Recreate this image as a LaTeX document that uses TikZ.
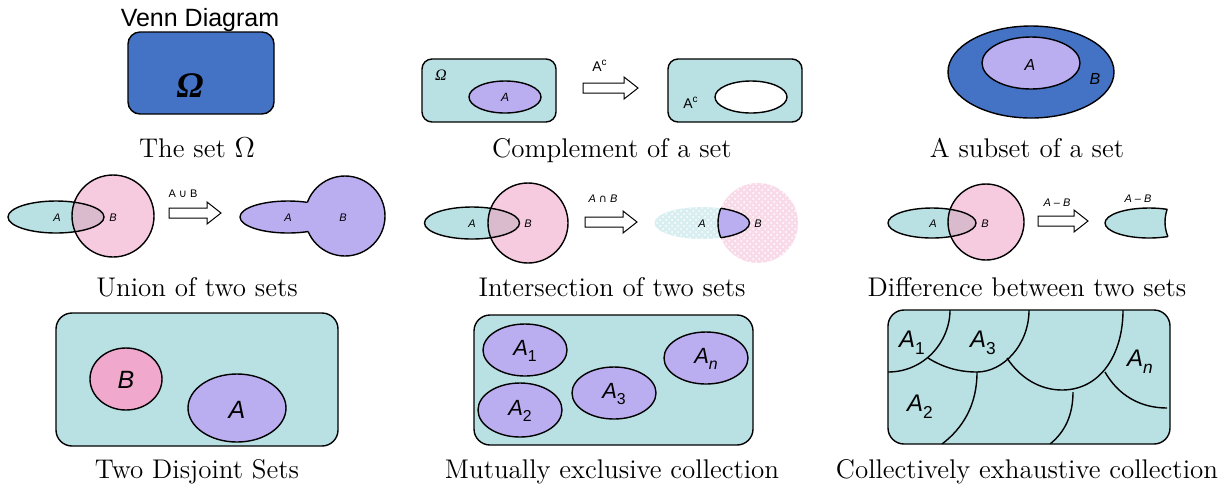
\documentclass[tikz,border=0pt]{standalone}
\usepackage{fontspec}
\newfontfamily\arialfont{Liberation Sans}
\newfontfamily\timesfont{Liberation Serif}
\newfontfamily\symbolfont{DejaVu Sans}
\usetikzlibrary{patterns}
\definecolor{omegaColour}{RGB}{68,114,196}
\definecolor{tealColour}{RGB}{185,224,227}
\definecolor{purpleColour}{RGB}{187,174,240}
\definecolor{pinkColour}{RGB}{246,202,223}
\definecolor{mauveColour}{RGB}{217,187,205}
\definecolor{roseColour}{RGB}{240,168,205}
\tikzset{
  set/.style={draw=black, line width=0.7pt},
  setlab/.style={font=\arialfont\itshape\fontsize{#1}{#1}\selectfont, inner sep=0pt},
  sanslab/.style={font=\arialfont\fontsize{#1}{#1}\selectfont, inner sep=0pt},
  caption/.style={font=\fontsize{13.5}{15}\selectfont, anchor=base, inner sep=0pt},
  fadeTeal/.style={fill=tealColour!55, postaction={pattern=crosshatch dots, pattern color=white}},
  fadePink/.style={fill=pinkColour!70, postaction={pattern=crosshatch dots, pattern color=white}}
}
% block arrow: left x, mid y, tip x
\newcommand{\blockarrow}[3]{%
  \draw[black, line width=0.5pt, fill=white] (#1,#2-5) -- (#3-14,#2-5) -- (#3-14,#2-11)
    -- (#3,#2) -- (#3-14,#2+11) -- (#3-14,#2+5) -- (#1,#2+5) -- cycle;}
% subscript index of a set
\newcommand{\setidx}[1]{\raisebox{-0.28em}{\fontsize{0.72em}{0.72em}\selectfont #1}}
\begin{document}
\begin{tikzpicture}[x=0.5pt, y=-0.5pt]
  \useasboundingbox (0,0) rectangle (1220,484);

  % the set Omega
  \draw[set, fill=omegaColour, rounded corners=6pt] (128,32) rectangle (274,114);
  \node[sanslab=12.5] (vennTitle) at (200,20) {Venn Diagram};
  \node[font=\timesfont\bfseries\itshape\fontsize{18}{18}\selectfont] (omegaBig) at (190,86) {Ω};
  \node[caption] (capOmega) at (197,157) {The set $\Omega$};

  % complement of a set
  \draw[set, fill=tealColour, rounded corners=5pt] (422,59) rectangle (556,122);
  \node[font=\timesfont\itshape\fontsize{8}{8}\selectfont, inner sep=0pt] (omegaSmall) at (441,75) {Ω};
  \draw[set, fill=purpleColour] (505,97) ellipse[x radius=36, y radius=16];
  \node[setlab=6] (compA) at (505,97) {A};
  \blockarrow{583}{88}{638}
  \node[sanslab=7] (compArrowLab) at (600,66) {A\textsuperscript{c}};
  \draw[set, fill=tealColour, rounded corners=5pt] (668,59) rectangle (802,122);
  \draw[set, fill=white] (751,97) ellipse[x radius=36, y radius=16];
  \node[sanslab=7] (compAc) at (691,103) {A\textsuperscript{c}};
  \node[caption] (capComp) at (612,157) {Complement of a set};

  % subset
  \draw[set, fill=omegaColour] (1031,72) ellipse[x radius=83, y radius=46];
  \draw[set, fill=purpleColour] (1031,63) ellipse[x radius=49, y radius=26];
  \node[setlab=8] (subA) at (1030,65) {A};
  \node[setlab=8] (subB) at (1095,79) {B};
  \node[caption] (capSub) at (1027,157) {A subset of a set};

  % union
  \fill[tealColour] (56,217) ellipse[x radius=48, y radius=16];
  \fill[pinkColour] (113,216) circle[radius=41];
  \begin{scope}
    \clip (56,217) ellipse[x radius=48, y radius=16];
    \fill[mauveColour] (113,216) circle[radius=41];
  \end{scope}
  \draw[set] (56,217) ellipse[x radius=48, y radius=16];
  \draw[set] (113,216) circle[radius=41];
  \node[setlab=5.5] (uniA) at (57,218) {A};
  \node[setlab=5.5] (uniB) at (113,218) {B};
  \blockarrow{169}{213}{221}
  \node[sanslab=5.5] (uniLab) at (183,194) {A {\symbolfont∪} B};
  \fill[purpleColour] (288,217) ellipse[x radius=48, y radius=16];
  \fill[purpleColour] (345,216) circle[radius=40];
  \begin{scope}[even odd rule]
    \clip (0,0) rectangle (1220,484) (345,216) circle[radius=40];
    \draw[set] (288,217) ellipse[x radius=48, y radius=16];
  \end{scope}
  \begin{scope}[even odd rule]
    \clip (0,0) rectangle (1220,484) (288,217) ellipse[x radius=48, y radius=16];
    \draw[set] (345,216) circle[radius=40];
  \end{scope}
  \node[setlab=5.5] (uniA2) at (288,218) {A};
  \node[setlab=5.5] (uniB2) at (343,218) {B};
  \node[caption] (capUni) at (197,296) {Union of two sets};

  % intersection
  \fill[tealColour] (472,223) ellipse[x radius=47.5, y radius=16];
  \fill[pinkColour] (528,223) circle[radius=40];
  \begin{scope}
    \clip (472,223) ellipse[x radius=47.5, y radius=16];
    \fill[mauveColour] (528,223) circle[radius=40];
  \end{scope}
  \draw[set] (472,223) ellipse[x radius=47.5, y radius=16];
  \draw[set] (528,223) circle[radius=40];
  \node[setlab=5.5] (intA) at (472,224) {A};
  \node[setlab=5.5] (intB) at (528,224) {B};
  \blockarrow{585}{222}{637}
  \node[setlab=5.5] (intLab) at (603,199) {A {\symbolfont∩} B};
  \path[fadeTeal] (702,223) ellipse[x radius=47.5, y radius=16];
  \path[fadePink] (758,223) circle[radius=40];
  \begin{scope}
    \clip (702,223) ellipse[x radius=47.5, y radius=16];
    \draw[set, fill=purpleColour] (758,223) circle[radius=40];
  \end{scope}
  \begin{scope}
    \clip (758,223) circle[radius=40];
    \draw[set] (702,223) ellipse[x radius=47.5, y radius=16];
  \end{scope}
  \node[setlab=5.5] (intA2) at (702,224) {A};
  \node[setlab=5.5] (intB2) at (758,224) {B};
  \node[caption] (capInt) at (612,296) {Intersection of two sets};

  % difference
  \fill[tealColour] (932,223) ellipse[x radius=44, y radius=15];
  \fill[pinkColour] (986,222) circle[radius=38];
  \begin{scope}
    \clip (932,223) ellipse[x radius=44, y radius=15];
    \fill[mauveColour] (986,222) circle[radius=38];
  \end{scope}
  \draw[set] (932,223) ellipse[x radius=44, y radius=15];
  \draw[set] (986,222) circle[radius=38];
  \node[setlab=5.5] (difA) at (933,224) {A};
  \node[setlab=5.5] (difB) at (985,224) {B};
  \blockarrow{1038}{221}{1088}
  \node[setlab=5.5] (difLab) at (1057,203) {A – B};
  \begin{scope}[even odd rule]
    \clip (0,0) rectangle (1220,484) (1203,222) circle[radius=38];
    \draw[set, fill=tealColour] (1149,223) ellipse[x radius=44, y radius=15];
  \end{scope}
  \begin{scope}
    \clip (1149,223) ellipse[x radius=44, y radius=15];
    \draw[set] (1203,222) circle[radius=38];
  \end{scope}
  \node[setlab=5.5] (difLab2) at (1138,199) {A – B};
  \node[caption] (capDif) at (1027,296) {Difference between two sets};

  % two disjoint sets
  \draw[set, fill=tealColour, rounded corners=8pt] (56,313) rectangle (338,446);
  \draw[set, fill=roseColour] (126,379) ellipse[x radius=36, y radius=31];
  \draw[set, fill=purpleColour] (237,408) ellipse[x radius=49, y radius=34];
  \node[setlab=12.5] (disB) at (126,380) {B};
  \node[setlab=12.5] (disA) at (237,410) {A};
  \node[caption] (capDis) at (197,478) {Two Disjoint Sets};

  % mutually exclusive collection
  \draw[set, fill=tealColour, rounded corners=8pt] (474,315) rectangle (753,445);
  \draw[set, fill=purpleColour] (525,350) ellipse[x radius=42, y radius=26];
  \draw[set, fill=purpleColour] (520,410) ellipse[x radius=42, y radius=27];
  \draw[set, fill=purpleColour] (614,393) ellipse[x radius=42, y radius=26];
  \draw[set, fill=purpleColour] (706,358) ellipse[x radius=42, y radius=26];
  \node[setlab=11] (mutA1) at (525,351) {A\setidx{\upshape 1}};
  \node[setlab=11] (mutA2) at (520,411) {A\setidx{\upshape 2}};
  \node[setlab=11] (mutA3) at (614,394) {A\setidx{\upshape 3}};
  \node[setlab=11] (mutAn) at (706,359) {A\setidx{n}};
  \node[caption] (capMut) at (612,478) {Mutually exclusive collection};

  % collectively exhaustive collection
  \draw[set, fill=tealColour, rounded corners=8pt] (888,310) rectangle (1170,444);
  \begin{scope}
    \clip[rounded corners=8pt] (888,310) rectangle (1170,444);
    \draw[set] (950,310) .. controls (950,342) and (924,372) .. (888,372);
    \draw[set] (928,358) .. controls (944,368) and (960,372) .. (977,372)
      .. controls (1003,372) and (1029,345) .. (1029,310);
    \draw[set] (977,372) .. controls (977,405) and (963,428) .. (942,444);
    \draw[set] (1007,358) .. controls (1020,378) and (1040,390) .. (1062,390)
      .. controls (1100,390) and (1123,355) .. (1123,310);
    \draw[set] (1073,392) .. controls (1073,415) and (1065,432) .. (1050,444);
    \draw[set] (1105,372) .. controls (1118,395) and (1140,408) .. (1167,408);
  \end{scope}
  \node[setlab=12] (colA1) at (912,343) {A\setidx{\upshape 1}};
  \node[setlab=12] (colA3) at (983,343) {A\setidx{\upshape 3}};
  \node[setlab=12] (colAn) at (1140,362) {A\setidx{n}};
  \node[setlab=12] (colA2) at (920,407) {A\setidx{\upshape 2}};
  \node[caption] (capCol) at (1027,478) {Collectively exhaustive collection};
\end{tikzpicture}
\end{document}
